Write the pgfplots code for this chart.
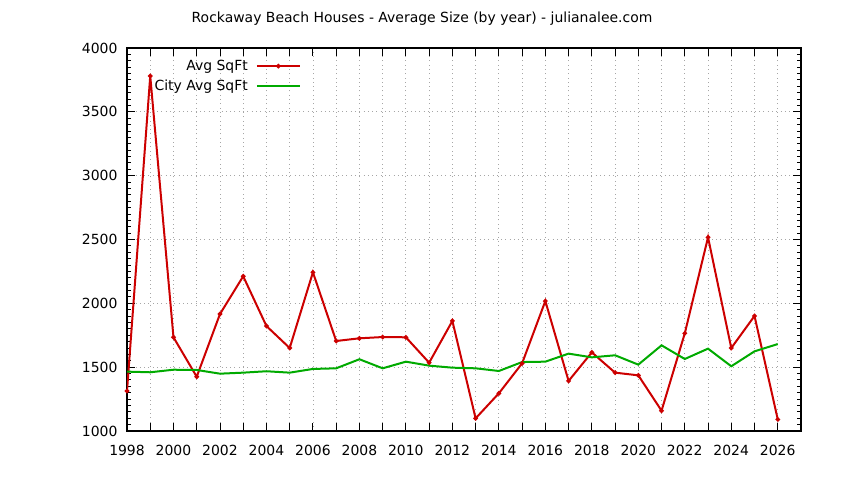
\documentclass[border=0pt]{standalone}
\usepackage{pgfplots}
\pgfplotsset{compat=1.18}
\usepackage{fontspec}
\setmainfont{DejaVu Sans}

\definecolor{avgred}{RGB}{204,0,0}
\definecolor{citygreen}{RGB}{0,170,0}

\pgfplotsset{
  gnulegend/.style={
    legend image code/.code={
      \draw[mark repeat=2,mark phase=2,##1] plot coordinates {(0bp,0bp) (21.5bp,0bp) (43bp,0bp)};
    }
  }
}

\begin{document}
\begin{tikzpicture}
\useasboundingbox (-127bp,-49bp) rectangle (717bp,431bp);
\begin{axis}[
    scale only axis,
    width=674bp, height=383bp,
    at={(0,0)}, anchor=south west,
    xmin=1998, xmax=2027,
    ymin=1000, ymax=4000,
    xtick={1998,1999,...,2026},
    xticklabels={1998,,2000,,2002,,2004,,2006,,2008,,2010,,2012,,2014,,2016,,2018,,2020,,2022,,2024,,2026},
    ytick={1000,1500,...,4000},
    minor y tick num=9,
    major tick length=8bp,
    minor tick length=4bp,
    tick align=inside,
    tick style={black, line width=0.9bp},
    axis line style={black, line width=1.2bp},
    grid=major,
    major grid style={gray!70, line width=0.8bp, dash pattern=on 0.8bp off 3.5bp},
    /pgf/number format/assume math mode=true,
    /pgf/number format/1000 sep={},
    ticklabel style={font=\fontsize{14}{16}\selectfont},
    yticklabel style={xshift=-6bp},
    xticklabel style={yshift=-11bp},
    gnulegend,
    legend plot pos=right,
    legend cell align=right,
    legend style={
      at={(0.2582,1)}, anchor=north east,
      yshift=-12bp,
      draw=none, fill=none,
      font=\fontsize{14}{16}\selectfont,
      inner sep=0pt,
      column sep=8bp,
      row sep=8bp,
      nodes={inner sep=0pt},
    },
]
\addplot[color=avgred, line width=2bp, mark=*, mark size=1.2pt] coordinates {
(1998,1313) (1999,3781) (2000,1734) (2001,1425) (2002,1916) (2003,2212)
(2004,1822) (2005,1650) (2006,2243) (2007,1705) (2008,1726) (2009,1736)
(2010,1734) (2011,1535) (2012,1862) (2013,1099) (2014,1295) (2015,1530)
(2016,2018) (2017,1392) (2018,1616) (2019,1457) (2020,1436) (2021,1159)
(2022,1765) (2023,2517) (2024,1650) (2025,1901) (2026,1091)
};
\addlegendentry{Avg SqFt}
\addplot[color=citygreen, line width=2bp, no markers] coordinates {
(1998,1465) (1999,1460) (2000,1480) (2001,1478) (2002,1449) (2003,1457)
(2004,1468) (2005,1457) (2006,1486) (2007,1491) (2008,1562) (2009,1491)
(2010,1543) (2011,1512) (2012,1496) (2013,1491) (2014,1470) (2015,1540)
(2016,1543) (2017,1606) (2018,1577) (2019,1593) (2020,1520) (2021,1671)
(2022,1564) (2023,1645) (2024,1507) (2025,1624) (2026,1681)
};
\addlegendentry{City Avg SqFt}
\end{axis}
\node[font=\fontsize{14}{16}\selectfont] at (295bp,412bp) {Rockaway Beach Houses - Average Size (by year) - julianalee.com};
\end{tikzpicture}
\end{document}
